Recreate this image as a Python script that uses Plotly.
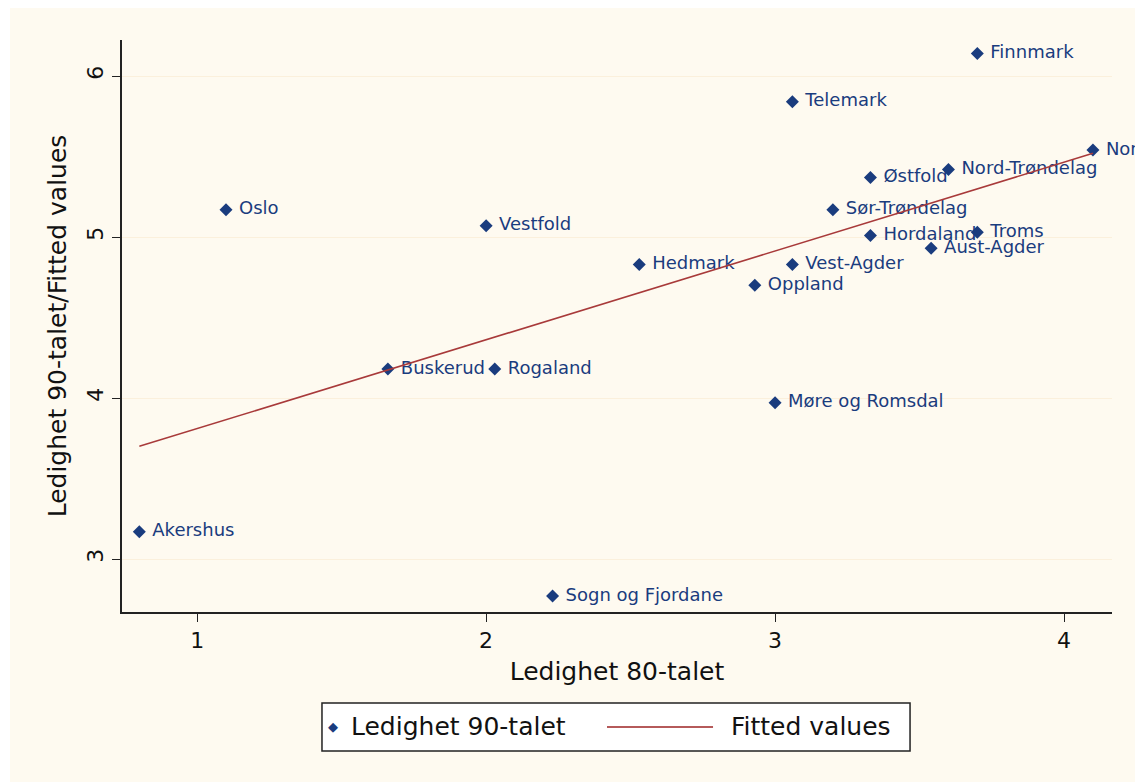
import plotly.graph_objects as go

counties = ["Finnmark", "Telemark", "Nordland", "Nord-Trøndelag", "Østfold", "Oslo",
            "Vestfold", "Sør-Trøndelag", "Hordaland", "Troms", "Aust-Agder", "Hedmark",
            "Vest-Agder", "Oppland", "Buskerud", "Rogaland", "Møre og Romsdal",
            "Akershus", "Sogn og Fjordane"]
ledighet_80 = [3.70, 3.06, 4.10, 3.60, 3.33, 1.10, 2.00, 3.20, 3.33, 3.70, 3.54, 2.53,
               3.06, 2.93, 1.66, 2.03, 3.00, 0.80, 2.23]
ledighet_90 = [6.14, 5.84, 5.54, 5.42, 5.37, 5.17, 5.07, 5.17, 5.01, 5.03, 4.93, 4.83,
               4.83, 4.70, 4.18, 4.18, 3.97, 3.17, 2.77]
fit_x = [0.80, 4.10]
fit_y = [3.70, 5.52]
legend_labels = ["Ledighet 90-talet", "Fitted values"]

navy = "#1a3c7e"
red = "#a83a3a"
cream = "#fefaf0"
dark = "#111111"
font_fam = "DejaVu Sans, Liberation Sans, sans-serif"

fig = go.Figure()
fig.add_trace(go.Scatter(
    x=ledighet_80, y=ledighet_90, mode="markers+text",
    text=[" " + c for c in counties], textposition="middle right",
    textfont=dict(color=navy, size=18, family=font_fam),
    marker=dict(symbol="diamond", size=10, color=navy),
    name=legend_labels[0], cliponaxis=False, showlegend=False,
))
fig.add_trace(go.Scatter(
    x=fit_x, y=fit_y, mode="lines",
    line=dict(color=red, width=1.6),
    name=legend_labels[1], showlegend=False,
))

# custom legend box (paper coordinates)
shapes = [
    dict(type="rect", xref="paper", yref="paper", x0=-0.1131, x1=1.05, y0=-0.32, y1=1.056,
         fillcolor=cream, line=dict(width=0), layer="below"),
    dict(type="rect", xref="paper", yref="paper", x0=0.2020, x1=0.7960, y0=-0.2430, y1=-0.1591,
         fillcolor="white", line=dict(color="#222222", width=1.5), layer="above"),
    dict(type="line", xref="paper", yref="paper", x0=0.4899, x1=0.5970, y0=-0.2010, y1=-0.2010,
         line=dict(color="#b55a5a", width=2)),
]
annotations = [
    dict(xref="paper", yref="paper", x=0.2131, y=-0.2010, text="◆", showarrow=False,
         xanchor="center", yanchor="middle", font=dict(size=13, color=navy, family=font_fam)),
    dict(xref="paper", yref="paper", x=0.2293, y=-0.2010, text=legend_labels[0], showarrow=False,
         xanchor="left", yanchor="middle", font=dict(size=25, color=dark, family=font_fam)),
    dict(xref="paper", yref="paper", x=0.6131, y=-0.2010, text=legend_labels[1], showarrow=False,
         xanchor="left", yanchor="middle", font=dict(size=25, color=dark, family=font_fam)),
]

fig.update_layout(
    width=1135, height=774,
    margin=dict(l=114, r=31, t=32, b=170),
    paper_bgcolor="white", plot_bgcolor="white",
    font=dict(family=font_fam, color=dark),
    showlegend=False,
    shapes=shapes, annotations=annotations,
)
fig.update_xaxes(
    range=[0.740, 4.166], tickvals=[1, 2, 3, 4], ticks="outside", ticklen=8,
    tickcolor="#222222", showline=True, linecolor="#222222", linewidth=1.5,
    showgrid=False, zeroline=False, tickfont=dict(size=22),
    title=dict(text="Ledighet 80-talet", font=dict(size=25), standoff=10),
)
fig.update_yaxes(
    range=[2.671, 6.224], tickvals=[3, 4, 5, 6], ticks="outside", ticklen=8,
    tickcolor="#222222", showline=True, linecolor="#222222", linewidth=1.5,
    showgrid=True, gridcolor="#fbf0dc", zeroline=False, tickfont=dict(size=22),
    tickangle=-90,
    title=dict(text="Ledighet 90-talet/Fitted values", font=dict(size=25), standoff=10),
)

fig.write_html("out.html")
